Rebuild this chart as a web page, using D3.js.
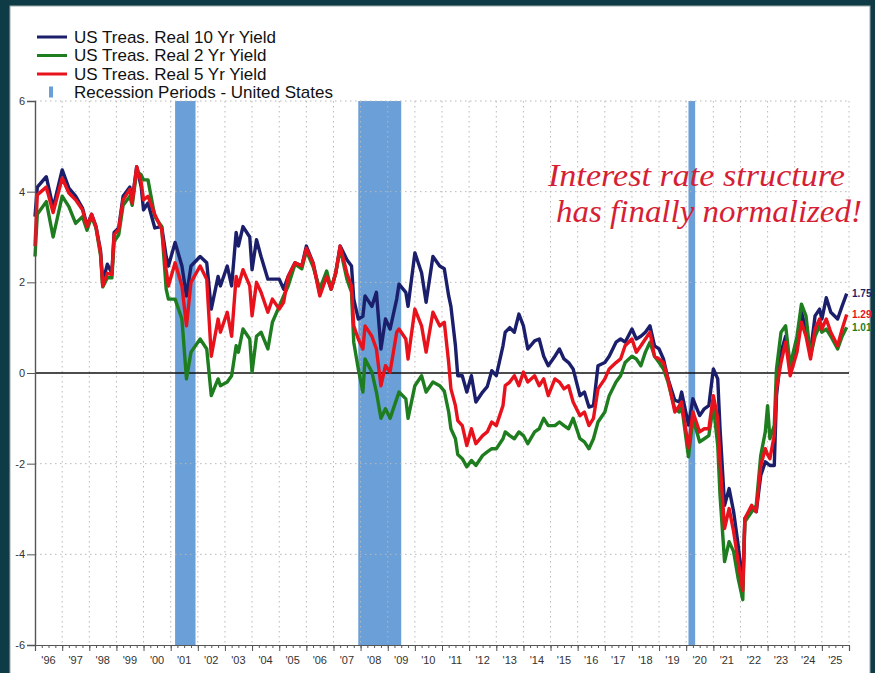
<!DOCTYPE html>
<html>
<head>
<meta charset="utf-8">
<script src="https://cdn.jsdelivr.net/npm/d3@7/dist/d3.min.js"></script>
<style>
  body { margin: 0; background: #0f3b46; }
  svg { display: block; font-family: "Liberation Sans", Arial, sans-serif; }
  .grid line { stroke: #b8b8b8; stroke-dasharray: 1.5,3.5; }
  .axis path, .axis line { stroke: #555; }
  .axis text { fill: #333; font-size: 11px; }
</style>
</head>
<body>
<svg width="875" height="673"></svg>
<script>
// ---- data (month, % real yield) ----
var dates = [
  '1996-01','1996-02','1996-06','1996-09',
  '1997-01','1997-04','1997-07','1997-10','1997-12',
  '1998-02','1998-04','1998-06','1998-07','1998-09','1998-11','1998-12',
  '1999-02','1999-04','1999-07','1999-08','1999-10','1999-12',
  '2000-01','2000-03','2000-06','2000-09','2000-11','2000-12',
  '2001-03','2001-06','2001-08','2001-10',
  '2002-02','2002-05','2002-07','2002-10','2002-11',
  '2003-02','2003-04','2003-06','2003-07','2003-09','2003-12',
  '2004-01','2004-03','2004-05','2004-08','2004-10',
  '2005-01','2005-03','2005-05','2005-08','2005-11',
  '2006-01','2006-04','2006-07','2006-10','2006-12',
  '2007-02','2007-04','2007-07','2007-09','2007-10','2007-12',
  '2008-02','2008-03','2008-06','2008-08','2008-10','2008-12',
  '2009-02','2009-05','2009-06','2009-09','2009-10',
  '2010-01','2010-04','2010-06','2010-09','2010-12',
  '2011-02','2011-04','2011-05','2011-07','2011-08','2011-10','2011-12',
  '2012-02','2012-04','2012-07','2012-09','2012-11',
  '2013-01','2013-04','2013-05','2013-07','2013-09','2013-11',
  '2014-01','2014-03','2014-06','2014-08','2014-10','2014-12',
  '2015-03','2015-05','2015-07','2015-09','2015-11',
  '2016-02','2016-04','2016-06','2016-08','2016-10',
  '2017-01','2017-03','2017-06','2017-08','2017-10',
  '2018-01','2018-03','2018-05','2018-07','2018-09','2018-11',
  '2019-01','2019-03','2019-05','2019-08','2019-10','2019-11',
  '2020-02','2020-04','2020-07','2020-09','2020-11',
  '2021-01','2021-03','2021-04','2021-06','2021-08','2021-10','2021-12',
  '2022-02','2022-03','2022-06','2022-08','2022-10','2022-12',
  '2023-01','2023-02','2023-04','2023-05','2023-07','2023-09','2023-11',
  '2024-02','2024-04','2024-06','2024-08','2024-10','2024-12',
  '2025-01','2025-03','2025-05','2025-08','2025-10','2025-12'
];

var real10 = [
  3.45, 4.1, 4.33, 3.65,
  4.48, 4.08, 3.9, 3.64, 3.25,
  3.5, 3.23, 2.7, 2.0, 2.4, 2.2, 3.1,
  3.2, 3.9, 4.1, 3.8, 4.55, 4.1,
  3.6, 3.75, 3.2, 3.23, 2.57, 2.36,
  2.88, 2.36, 1.7, 2.36,
  2.57, 2.43, 1.41, 2.13, 1.92,
  2.36, 1.92, 3.1, 2.8, 3.23, 3.0,
  2.28, 2.94, 2.57, 2.07, 2.07,
  2.07, 1.85, 2.13, 2.43, 2.36,
  2.8, 2.43, 1.75, 2.15, 1.85,
  2.21, 2.8, 2.5, 2.36, 1.63, 1.19,
  1.25, 1.7, 1.47, 1.78, 0.53, 1.19,
  0.97, 1.63, 1.96, 1.78, 1.47,
  2.65, 2.21, 1.56, 2.57, 2.36,
  2.3, 1.7, 1.47, 0.6, -0.06, -0.06, -0.42,
  -0.06, -0.64, -0.42, -0.3, 0.05,
  -0.06, 0.6, 0.9, 1.0, 0.9, 1.3,
  1.04, 0.53, 0.71, 0.75, 0.37, 0.16,
  0.37, 0.53, 0.31, 0.23, 0.09,
  -0.5, -0.42, -0.75, -0.72, 0.16,
  0.23, 0.37, 0.68, 0.75, 0.68,
  0.97, 0.75, 0.81, 0.9, 1.04, 0.6,
  0.53, 0.31, -0.13, -0.6, -0.64, -0.42,
  -1.15, -0.57, -0.94, -0.79, -0.72,
  0.09, -0.13, -1.23, -2.92, -2.55, -3.06, -3.8,
  -4.68, -3.21, -2.99, -3.06, -2.26, -1.96,
  -2.0, -2.04, -2.04, -0.5, 0.46, 0.81, 0.09,
  0.6, 1.34, 0.97, 0.46, 1.26, 1.41,
  1.19, 1.66, 1.34, 1.19, 1.48, 1.75
];

var real2 = [
  2.57, 3.5, 3.78, 3.0,
  3.9, 3.67, 3.3, 3.45, 3.15,
  3.45, 3.2, 2.6, 1.9, 2.1, 2.1, 2.9,
  3.05, 3.7, 3.9, 3.7, 4.45, 4.37,
  4.26, 4.26, 3.45, 3.23, 1.85, 1.63,
  1.63, 1.19, -0.13, 0.46,
  0.75, 0.53, -0.5, -0.13, -0.28,
  -0.2, -0.06, 0.6, 0.46, 0.97, 0.75,
  0.02, 0.81, 0.9, 0.53, 1.12,
  1.47, 1.7, 1.92, 2.4, 2.3,
  2.7, 2.35, 1.85, 2.25, 1.85,
  2.21, 2.75, 2.07, 1.78, 0.68, 0.09,
  -0.42, 0.31, 0.02, -0.42, -1.0, -0.79,
  -1.0, -0.57, -0.42, -0.57, -1.0,
  -0.28, -0.06, -0.42, -0.2, -0.28,
  -0.4, -0.86, -1.23, -1.45, -1.8, -1.89, -2.07,
  -1.93, -2.04, -1.82, -1.74, -1.67,
  -1.67, -1.45, -1.3, -1.38, -1.45, -1.3,
  -1.38, -1.56, -1.3, -1.23, -1.0, -1.16,
  -1.16, -1.08, -1.16, -1.23, -1.0,
  -1.45, -1.52, -1.67, -1.45, -1.08,
  -0.86, -0.5, -0.2, -0.06, 0.23,
  0.37, 0.31, 0.16, 0.46, 0.68, 0.37,
  0.23, 0.09, -0.2, -0.79, -0.86, -0.72,
  -1.85, -1.0, -1.52, -1.45, -1.38,
  -0.72, -1.6, -2.7, -4.16, -3.72, -3.94, -4.53,
  -5.0, -3.28, -3.06, -2.92, -1.82, -1.3,
  -0.72, -1.45, -1.16, 0.09, 0.9, 1.04, 0.16,
  0.81, 1.52, 1.26, 0.37, 0.81, 1.04,
  0.9, 0.97, 0.81, 0.53, 0.81, 1.01
];

var real5 = [
  2.8, 3.93, 4.1, 3.54,
  4.3, 3.97, 3.82, 3.6, 3.23,
  3.5, 3.23, 2.65, 1.92, 2.2, 2.17, 3.05,
  3.17, 3.82, 4.05, 3.75, 4.55, 4.2,
  3.82, 3.9, 3.5, 3.17, 2.28, 1.92,
  2.43, 1.92, 1.04, 2.0,
  2.36, 2.07, 0.37, 1.19, 0.9,
  1.34, 0.81, 2.13, 1.92, 2.28, 1.92,
  1.26, 2.0, 1.78, 1.34, 1.63,
  1.41, 1.56, 2.13, 2.43, 2.36,
  2.75, 2.43, 1.7, 2.13, 1.85,
  2.21, 2.8, 2.2, 1.92, 1.04, 0.75,
  0.53, 1.04, 0.81, 0.53, -0.28, 0.16,
  0.02, 0.9, 0.97, 0.75, 0.31,
  1.41, 1.04, 0.46, 1.34, 1.04,
  1.12, 0.23, -0.35, -0.72, -1.05, -1.16, -1.6,
  -1.23, -1.56, -1.38, -1.3, -1.08,
  -1.16, -0.72, -0.28, -0.2, -0.06, -0.28,
  0.02, -0.2, -0.06, -0.28, -0.13, -0.5,
  -0.13, -0.2, -0.35, -0.28, -0.64,
  -0.94, -0.86, -1.16, -1.0, -0.35,
  -0.13, 0.09, 0.23, 0.31, 0.6,
  0.75, 0.46, 0.6, 0.75, 0.9, 0.37,
  0.31, 0.23, -0.13, -0.86, -0.72, -0.64,
  -1.65, -0.86, -1.3, -1.23, -1.23,
  -0.5, -1.0, -1.96, -3.43, -2.99, -3.5, -4.16,
  -4.8, -3.21, -2.92, -3.06, -2.04, -1.67,
  -1.8, -1.89, -1.38, -0.35, 0.23, 0.68, -0.06,
  0.46, 1.12, 0.81, 0.31, 0.97, 1.19,
  0.97, 1.19, 0.9, 0.6, 0.97, 1.29
];

// recession start / end months
var recessionStart = ['2001-03', '2007-12', '2020-02'];
var recessionEnd   = ['2001-12', '2009-07', '2020-05'];

var yTicks = [-6, -4, -2, 0, 2, 4, 6];
var legendLabels = ['US Treas. Real 10 Yr Yield', 'US Treas. Real 2 Yr Yield',
                    'US Treas. Real 5 Yr Yield', 'Recession Periods - United States'];

// ---- setup ----
var parse = d3.timeParse('%Y-%m');
var svg = d3.select('svg'),
    margin = { top: 101, right: 26, bottom: 28, left: 35 },
    width  = +svg.attr('width') - margin.left - margin.right,
    height = +svg.attr('height') - margin.top - margin.bottom;

var x = d3.scaleTime()
      .domain([new Date(1996, 0, 1), new Date(2026, 0, 1)])
      .range([0, width]),
    y = d3.scaleLinear()
      .domain([-6, 6])
      .range([height, 0]);

// white paper panel
svg.append('rect')
    .attr('x', 10).attr('y', 6)
    .attr('width', 860).attr('height', 671)
    .attr('fill', '#fff')
    .attr('stroke', '#9aa')
    .attr('stroke-width', 1);

var g = svg.append('g')
    .attr('transform', 'translate(' + margin.left + ',' + margin.top + ')');

// recession shading
var rec = recessionStart.map(function(s, i) {
  return { start: parse(s), end: parse(recessionEnd[i]) };
});
g.selectAll('.rec')
  .data(rec)
  .enter().append('rect')
    .attr('class', 'rec')
    .attr('x', function(d) { return x(d.start); })
    .attr('width', function(d) { return x(d.end) - x(d.start); })
    .attr('y', 0)
    .attr('height', height)
    .attr('fill', '#6a9fd8');

// dotted grid
var years = d3.timeYear.range(new Date(1997, 0, 1), new Date(2026, 0, 2));
g.append('g').attr('class', 'grid')
  .selectAll('line')
  .data(years)
  .enter().append('line')
    .attr('x1', function(d) { return x(d); })
    .attr('x2', function(d) { return x(d); })
    .attr('y1', 0).attr('y2', height);
g.append('g').attr('class', 'grid')
  .selectAll('line')
  .data(yTicks.filter(function(d) { return d !== 0 && d !== -6; }))
  .enter().append('line')
    .attr('x1', 0).attr('x2', width)
    .attr('y1', function(d) { return y(d); })
    .attr('y2', function(d) { return y(d); });

// zero line
g.append('line')
    .attr('x1', 0).attr('x2', width)
    .attr('y1', y(0)).attr('y2', y(0))
    .attr('stroke', '#111')
    .attr('stroke-width', 1.6);

// series
var series = [
  { name: legendLabels[0], values: real10, color: '#1b1f6b' },
  { name: legendLabels[1], values: real2,  color: '#1e7d1e' },
  { name: legendLabels[2], values: real5,  color: '#e8121c' }
];
var line = d3.line()
    .x(function(d) { return x(d.date); })
    .y(function(d) { return y(d.v); });

g.selectAll('.series')
  .data(series)
  .enter().append('path')
    .attr('class', 'series')
    .attr('fill', 'none')
    .attr('stroke', function(d) { return d.color; })
    .attr('stroke-width', 3.4)
    .attr('stroke-linejoin', 'round')
    .attr('d', function(s) {
      return line(dates.map(function(m, i) { return { date: parse(m), v: s.values[i] }; }));
    });

// last values at right end
g.selectAll('.endlab')
  .data(series)
  .enter().append('text')
    .attr('class', 'endlab')
    .attr('x', width + 3)
    .attr('y', function(d) { return y(d.values[d.values.length - 1]); })
    .attr('dy', '0.35em')
    .attr('fill', function(d) { return d.color; })
    .attr('font-size', '10px')
    .attr('font-weight', 'bold')
    .text(function(d) { return d3.format('.2f')(d.values[d.values.length - 1]); });

// y axis
g.append('g')
    .attr('class', 'axis axis--y')
    .call(d3.axisLeft(y).tickValues(yTicks).tickSize(8).tickPadding(2)
      .tickFormat(function(d) { return String(d); }))
    .select('.domain').attr('stroke-width', 1.4);

// x axis: quarterly minor ticks, yearly major ticks, labels mid-year
g.append('g')
    .attr('class', 'axis axis--x')
    .attr('transform', 'translate(0,' + height + ')')
    .call(d3.axisBottom(x).ticks(d3.timeMonth.every(3)).tickSize(3).tickFormat(''));
g.append('g')
    .attr('class', 'axis axis--x')
    .attr('transform', 'translate(0,' + height + ')')
    .call(d3.axisBottom(x).ticks(d3.timeYear).tickSize(6).tickFormat(''))
    .select('.domain').attr('stroke-width', 1.2);
g.append('g')
    .attr('class', 'axis')
    .selectAll('text')
    .data(d3.timeYear.range(new Date(1996, 0, 1), new Date(2026, 0, 1)))
    .enter().append('text')
      .attr('x', function(d) { return x(d3.timeMonth.offset(d, 6)); })
      .attr('y', height + 19)
      .attr('text-anchor', 'middle')
      .text(d3.timeFormat("'%y"));

// legend
var legend = svg.append('g').attr('transform', 'translate(35,37)');
legendLabels.forEach(function(lbl, i) {
  var row = legend.append('g').attr('transform', 'translate(0,' + (i * 18.5) + ')');
  if (i < 3) {
    row.append('line')
        .attr('x1', 2).attr('x2', 32)
        .attr('stroke', series[i].color)
        .attr('stroke-width', 3);
  } else {
    row.append('rect')
        .attr('x', 14).attr('y', -6)
        .attr('width', 4).attr('height', 11)
        .attr('fill', '#6a9fd8');
  }
  row.append('text')
      .attr('x', 39)
      .attr('dy', '0.35em')
      .attr('font-size', '17px')
      .attr('fill', '#111')
      .text(lbl);
});

// handwritten note
var note = svg.append('g')
    .attr('fill', '#d61f35')
    .attr('font-family', '"Liberation Serif", serif')
    .attr('font-style', 'italic')
    .attr('font-size', '31px');
note.append('text')
    .attr('x', 548).attr('y', 186)
    .attr('textLength', 297).attr('lengthAdjust', 'spacingAndGlyphs')
    .text('Interest rate structure');
note.append('text')
    .attr('x', 556).attr('y', 222)
    .attr('textLength', 306).attr('lengthAdjust', 'spacingAndGlyphs')
    .text('has finally normalized!');
</script>
</body>
</html>
